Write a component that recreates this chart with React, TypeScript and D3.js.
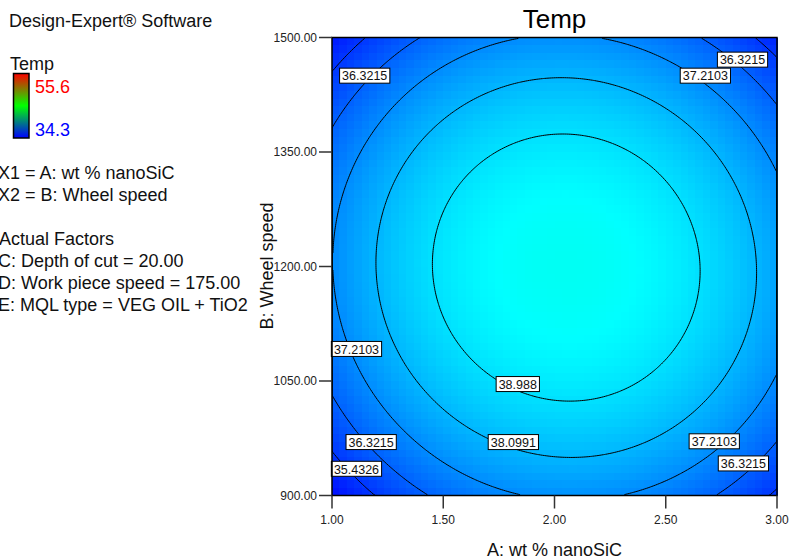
import * as d3 from 'd3'

const FONT = '"Liberation Sans", Arial, Helvetica, sans-serif'

const A_TICKS = [1.0, 1.5, 2.0, 2.5, 3.0]
const B_TICKS = [900, 1050, 1200, 1350, 1500]
const LEVELS = [35.4326, 36.3215, 37.2103, 38.0991, 38.988]
const LEVEL_TEXT = ['35.4326', '36.3215', '37.2103', '38.0991', '38.988']
const TEMP_LOW = 34.3
const TEMP_HIGH = 55.6

// where each contour crosses: [A, B]
const ring35: [number, number][] = [
  [1.0, 1457], [1.156, 1500], [1.0, 955], [1.186, 900], [2.906, 1500], [2.991, 1470],
]
const ring36: [number, number][] = [
  [1.0, 1382], [1.395, 1500], [1.148, 1442], [1.0, 1031], [1.425, 900], [1.176, 970],
  [2.652, 1500], [2.831, 1466], [2.991, 1415], [2.996, 970], [2.861, 933], [2.719, 900],
]
const ring37: [number, number][] = [
  [1.006, 1221], [1.013, 1156], [1.051, 1287], [1.14, 1352], [1.058, 1091], [1.171, 1038],
  [1.776, 1496], [2.203, 1499], [2.682, 1450], [2.831, 1378], [3.0, 1324], [3.0, 1060],
  [2.816, 986], [2.532, 925], [2.293, 900], [1.835, 900], [1.567, 929], [1.268, 999],
  [1.096, 1077], [1.028, 1274],
]
const ring38: [number, number][] = [
  [1.2, 1208], [2.906, 1191], [2.0, 1448], [2.073, 949], [1.373, 1352], [2.711, 1352],
  [1.395, 1038], [2.719, 1038], [1.358, 1073], [1.537, 1016], [1.866, 975], [2.876, 1265],
  [2.876, 1121], [1.776, 1428], [1.23, 1274], [1.238, 1130], [2.203, 1444], [2.577, 1396],
  [2.846, 1274], [2.861, 1130], [2.816, 1064], [2.607, 990], [2.158, 951],
]
const ring39: [number, number][] = [
  [1.448, 1204], [2.656, 1195], [2.042, 1375], [2.073, 1023], [1.754, 1352], [2.338, 1352],
  [1.739, 1051], [2.307, 1038], [2.607, 1274], [1.477, 1244], [1.5, 1126], [2.622, 1125],
  [2.203, 1370], [2.532, 1086], [2.352, 1042], [1.5, 1274], [1.776, 1359],
]
const RINGS = [ring35, ring36, ring37, ring38, ring39]

// contour label boxes: [A, B, level index]
const LABELS: [number, number, number][] = [
  [1.147, 1450, 1], [2.678, 1450, 2], [2.845, 1471, 1], [1.11, 1092, 2], [1.835, 1046, 4],
  [1.176, 970, 1], [1.815, 970, 3], [2.718, 971, 2], [1.11, 935, 0], [2.849, 942, 1],
]

const FACTOR_LINES = [
  { text: 'X1 = A: wt % nanoSiC', y: 179 },
  { text: 'X2 = B: Wheel speed', y: 201 },
  { text: 'Actual Factors', y: 245 },
  { text: 'C: Depth of cut = 20.00', y: 267 },
  { text: 'D: Work piece speed = 175.00', y: 289 },
  { text: 'E: MQL type = VEG OIL + TiO2', y: 311 },
]

// least squares quadratic surface through the contour readings (coded units)
function fitSurface() {
  const rows: { f: number[]; t: number }[] = []
  RINGS.forEach((ring, k) =>
    ring.forEach(([a, b]) => {
      const u = a - 2
      const v = (b - 1200) / 300
      rows.push({ f: [1, u, v, u * u, v * v, u * v], t: LEVELS[k] })
    })
  )
  const N = 6
  const M = d3.range(N).map(() => new Array(N + 1).fill(0))
  rows.forEach(({ f, t }) => {
    for (let i = 0; i < N; i++) {
      for (let j = 0; j < N; j++) M[i][j] += f[i] * f[j]
      M[i][N] += f[i] * t
    }
  })
  for (let c = 0; c < N; c++) {
    let p = c
    for (let r = c + 1; r < N; r++) if (Math.abs(M[r][c]) > Math.abs(M[p][c])) p = r
    ;[M[c], M[p]] = [M[p], M[c]]
    for (let r = 0; r < N; r++) {
      if (r === c) continue
      const k = M[r][c] / M[c][c]
      for (let j = c; j <= N; j++) M[r][j] -= k * M[c][j]
    }
  }
  const coef = M.map((row, i) => row[N] / row[i])
  return (a: number, b: number) => {
    const u = a - 2
    const v = (b - 1200) / 300
    return coef[0] + coef[1] * u + coef[2] * v + coef[3] * u * u + coef[4] * v * v + coef[5] * u * v
  }
}

const temp = fitSurface()

export default function App() {
  const width = 790
  const height = 560
  const x = d3.scaleLinear().domain([1, 3]).range([332, 777])
  const y = d3.scaleLinear().domain([900, 1500]).range([495.5, 37.5])
  const color = d3
    .scaleLinear<string>()
    .domain(d3.range(5).map((i) => TEMP_LOW + (i * (TEMP_HIGH - TEMP_LOW)) / 4))
    .range(['#0000ff', '#00ffff', '#00ff00', '#ffff00', '#ff0000'])

  // colour field
  const NC = 60
  const cells = d3.range(NC * NC).map((k) => {
    const i = k % NC
    const j = Math.floor(k / NC)
    const a0 = 1 + (i * 2) / NC
    const b0 = 1500 - (j * 600) / NC
    return {
      x: x(a0),
      y: y(b0),
      w: x(a0 + 2 / NC) - x(a0) + 0.6,
      h: y(b0 - 600 / NC) - y(b0) + 0.6,
      c: color(temp(a0 + 1 / NC, b0 - 300 / NC)),
    }
  })

  // contour lines
  const n = 240
  const values: number[] = []
  for (let j = 0; j < n; j++) {
    for (let i = 0; i < n; i++) {
      values.push(temp(1 + ((i + 0.5) / n) * 2, 1500 - ((j + 0.5) / n) * 600))
    }
  }
  const contours = d3.contours().size([n, n]).thresholds(LEVELS)(values)
  const proj = d3.geoTransform({
    point(px: number, py: number) {
      this.stream.point(x(1 + (px / n) * 2), y(1500 - (py / n) * 600))
    },
  })
  const path = d3.geoPath(proj)

  const [x0, x1] = x.range()
  const [y1, y0] = y.range()

  return (
    <div style={{ position: 'absolute', left: 0, top: 0 }}>
      <svg width={width} height={height} style={{ display: 'block', background: '#fff' }} fontFamily={FONT}>
        <defs>
          <clipPath id="plot-clip">
            <rect x={x0} y={y0} width={x1 - x0} height={y1 - y0} />
          </clipPath>
          <linearGradient id="legend-grad" x1="0" y1="1" x2="0" y2="0">
            <stop offset="0%" stopColor="#0000ff" />
            <stop offset="50%" stopColor="#00ff00" />
            <stop offset="100%" stopColor="#ff0000" />
          </linearGradient>
        </defs>

        <g shapeRendering="crispEdges">
          {cells.map((d, k) => (
            <rect key={k} x={d.x} y={d.y} width={d.w} height={d.h} fill={d.c} />
          ))}
        </g>

        <g clipPath="url(#plot-clip)">
          {contours.map((c, k) => (
            <path key={k} d={path(c as any) || ''} fill="none" stroke="#000" strokeWidth={1} />
          ))}
        </g>

        {LABELS.map(([a, b, li], k) => {
          const txt = LEVEL_TEXT[li]
          const w = txt.length * 6.95 - 3.4 + 5
          const cx = x(a)
          const cy = y(b)
          return (
            <g key={k}>
              <rect x={cx - w / 2} y={cy - 7.5} width={w} height={15} fill="#fff" stroke="#000" strokeWidth={1} />
              <text x={cx} y={cy + 4.8} textAnchor="middle" fontSize={12.5} fill="#111">
                {txt}
              </text>
            </g>
          )
        })}

        <rect x={x0} y={y0} width={x1 - x0} height={y1 - y0} fill="none" stroke="#000" strokeWidth={1.5} />

        {A_TICKS.map((t) => (
          <g key={t}>
            <line x1={x(t)} x2={x(t)} y1={y1} y2={y1 + 13} stroke="#333" strokeWidth={1.5} />
            <text x={x(t)} y={y1 + 28.5} textAnchor="middle" fontSize={12} fill="#222">
              {t.toFixed(2)}
            </text>
          </g>
        ))}
        {B_TICKS.map((t) => (
          <g key={t}>
            <line x1={x0 - 13} x2={x0} y1={y(t)} y2={y(t)} stroke="#333" strokeWidth={1.5} />
            <text x={x0 - 15} y={y(t) + 4} textAnchor="end" fontSize={12} fill="#222">
              {t.toFixed(2)}
            </text>
          </g>
        ))}

        <text x={(x0 + x1) / 2} y={28} textAnchor="middle" fontSize={26} fill="#000">
          Temp
        </text>
        <text x={(x0 + x1) / 2} y={556} textAnchor="middle" fontSize={18} fill="#111">
          A: wt % nanoSiC
        </text>
        <text transform={`translate(272.5,266) rotate(-90)`} textAnchor="middle" fontSize={18} fill="#111">
          B: Wheel speed
        </text>

        <text x={9} y={26.5} fontSize={18} fill="#111">
          Design-Expert® Software
        </text>
        <text x={10} y={69.5} fontSize={18} fill="#111">
          Temp
        </text>
        <rect x={13.5} y={73.5} width={15.5} height={64.5} fill="url(#legend-grad)" stroke="#000" strokeWidth={1.5} />
        <text x={35} y={92.5} fontSize={18} fill="#ff0000">
          {TEMP_HIGH.toFixed(1)}
        </text>
        <text x={35} y={136} fontSize={18} fill="#0000ff">
          {TEMP_LOW.toFixed(1)}
        </text>
        {FACTOR_LINES.map((l) => (
          <text key={l.text} x={l.text.startsWith('Actual') ? -1 : -2} y={l.y} fontSize={18} fill="#111">
            {l.text}
          </text>
        ))}
      </svg>
    </div>
  )
}
